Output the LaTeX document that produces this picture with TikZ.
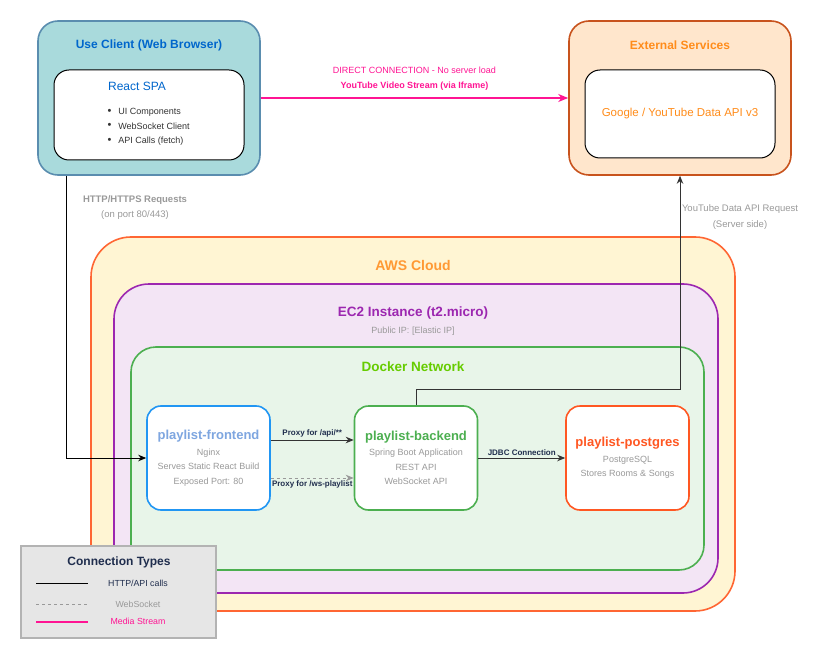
\documentclass[tikz,border=0pt]{standalone}
\usepackage{fontspec}
\setmainfont{Liberation Sans}
\usetikzlibrary{arrows.meta, positioning}

\definecolor{clientfill}{HTML}{A9DADC}
\definecolor{clientline}{HTML}{5A8DAF}
\definecolor{titleblue}{HTML}{0066CC}
\definecolor{extfill}{HTML}{FFE6CC}
\definecolor{extline}{HTML}{C8531D}
\definecolor{extorange}{HTML}{FF8C1A}
\definecolor{awsfill}{HTML}{FFF5D3}
\definecolor{awsline}{HTML}{FF6633}
\definecolor{awsorange}{HTML}{FF9933}
\definecolor{ecfill}{HTML}{F3E5F5}
\definecolor{ecline}{HTML}{9C27B0}
\definecolor{dockfill}{HTML}{E8F5E9}
\definecolor{dockline}{HTML}{4CAF50}
\definecolor{docktext}{HTML}{66CC00}
\definecolor{feline}{HTML}{2196F3}
\definecolor{fetext}{HTML}{7EA6E0}
\definecolor{pgline}{HTML}{FF5722}
\definecolor{mediapink}{HTML}{FF1493}
\definecolor{navy}{HTML}{1F2D4D}
\definecolor{softgray}{HTML}{999999}
\definecolor{arrowgray}{HTML}{333333}
\definecolor{legendfill}{HTML}{E6E6E6}
\definecolor{legendline}{HTML}{B3B3B3}

\newcommand{\fsize}[2]{\fontsize{#1}{#2}\selectfont}
\newcommand{\svctitle}[2]{{\bfseries\fsize{13}{15}\color{#1}#2}}
\newcommand{\dotitem}{\raisebox{0.5pt}{\fsize{11}{11}\textbullet}\hspace{7pt}}

\tikzset{
	zone/.style={draw=#1, line width=1.6pt, inner sep=0pt},
	inner box/.style={draw=black, fill=white, line width=1pt, rounded corners=15pt, inner sep=0pt},
	service/.style={draw=#1, fill=white, line width=1.6pt, rounded corners=14pt,
		minimum width=123pt, minimum height=104pt, inner sep=0pt, align=center,
		font=\fsize{9}{14.5}, text=softgray},
	ztitle/.style={font=\bfseries\fsize{#1}{#1}},
	small label/.style={font=\bfseries\fsize{8}{10}, text=navy, inner sep=2pt},
	legend text/.style={font=\fsize{8.8}{10}},
	plain/.style={draw=arrowgray, line width=0.8pt, -{Stealth[length=8pt,width=6.5pt]}},
	ws/.style={draw=softgray, line width=0.8pt, dash pattern=on 3pt off 3pt, -{Stealth[length=8pt,width=6.5pt]}},
	media/.style={draw=mediapink, line width=1.6pt, -{Stealth[length=10pt,width=8pt]}}
}

\begin{document}
\begin{tikzpicture}[x=1pt, y=-1pt, node distance=207.5pt, on grid]
	\useasboundingbox (0,0) rectangle (826,660);

	% outer zones
	\node[zone=awsline, fill=awsfill, rounded corners=40pt, minimum width=644pt, minimum height=374pt] (aws) at (413,424) {};
	\node[zone=ecline, fill=ecfill, rounded corners=35pt, minimum width=604pt, minimum height=309pt] (ec2) at (416,438.5) {};
	\node[zone=dockline, fill=dockfill, rounded corners=25pt, minimum width=573pt, minimum height=223pt] (docker) at (417.5,458.5) {};
	\node[ztitle=14, text=awsorange] (awstitle) at (413,265) {AWS Cloud};
	\node[ztitle=13.5, text=ecline] (ec2title) at (413,313) {EC2 Instance (t2.micro)};
	\node[font=\fsize{9}{11}, text=softgray] (ec2ip) at (413,331) {Public IP: [Elastic IP]};
	\node[ztitle=13.5, text=docktext] (docktitle) at (413,367) {Docker Network};

	% client
	\node[zone=clientline, fill=clientfill, rounded corners=20pt, minimum width=222pt, minimum height=154pt] (client) at (149,98) {};
	\node[ztitle=12, text=titleblue] (clienttitle) at (149,45) {Use Client (Web Browser)};
	\node[inner box, minimum width=190pt, minimum height=90pt] (spa) at (149,115) {};
	\node[font=\fsize{12}{14}, text=titleblue] (spatitle) at (137,86) {React SPA};
	\node[anchor=west, align=left, font=\fsize{9}{14.5}, text=arrowgray] (spalist) at (104,127)
		{\dotitem UI Components\\ \dotitem WebSocket Client\\ \dotitem API Calls (fetch)};

	% external
	\node[zone=extline, fill=extfill, rounded corners=20pt, minimum width=222pt, minimum height=154pt] (ext) at (680,98) {};
	\node[ztitle=12, text=extorange] (exttitle) at (680,45) {External Services};
	\node[inner box, minimum width=190pt, minimum height=88pt, font=\fsize{11.5}{14}, text=extorange] (gapi) at (680,114) {Google / YouTube Data API v3};

	% containers
	\node[service=feline] (fe) at (208.5,458)
		{\svctitle{fetext}{playlist-frontend}\\[1pt] Nginx\\ Serves Static React Build\\ Exposed Port: 80};
	\node[service=dockline, right=of fe] (be)
		{\svctitle{dockline}{playlist-backend}\\[1pt] Spring Boot Application\\ REST API\\ WebSocket API};
	\node[service=pgline, right=211.5pt of be] (pg)
		{\svctitle{pgline}{playlist-postgres}\\[1pt] PostgreSQL\\ Stores Rooms \& Songs};

	% connections
	\draw[media] (client.east) -- node[above=3pt, align=center, text=mediapink, font=\fsize{9}{15}]
		{DIRECT CONNECTION - No server load\\ \textbf{YouTube Video Stream (via Iframe)}} (ext.west);
	\draw[plain, draw=black] ([xshift=-83pt]client.south) |- (fe.west);
	\node[align=center, text=softgray, font=\fsize{9.5}{15}] (httplabel) at (135,208)
		{\textbf{HTTP/HTTPS Requests}\\ (on port 80/443)};
	\draw[plain] (be.north) -- ++(0,-16) -| (ext.south);
	\node[align=center, text=softgray, font=\fsize{9.5}{16}] (apilabel) at (740,217)
		{YouTube Data API Request\\ (Server side)};
	\draw[plain] ([yshift=18pt]fe.east) -- node[small label, above] {Proxy for /api/**} ([yshift=18pt]be.west);
	\draw[ws] ([yshift=-20pt]fe.east) -- node[small label, below] {Proxy for /ws-playlist} ([yshift=-20pt]be.west);
	\draw[plain] (be) -- node[small label, above] {JDBC Connection} (pg);

	% legend
	\node[draw=legendline, fill=legendfill, line width=1.6pt, minimum width=195pt, minimum height=92pt] (legend) at (118.5,592) {};
	\node[ztitle=12, text=navy] (legendtitle) at (119,562) {Connection Types};
	\coordinate (l1a) at (36,583); \coordinate (l1b) at (88,583);
	\coordinate (l2a) at (36,604); \coordinate (l2b) at (88,604);
	\coordinate (l3a) at (36,622); \coordinate (l3b) at (88,622);
	\draw[black, line width=0.8pt] (l1a) -- (l1b);
	\draw[softgray, line width=0.8pt, dash pattern=on 3pt off 3pt] (l2a) -- (l2b);
	\draw[mediapink, line width=1.6pt] (l3a) -- (l3b);
	\node[legend text, text=navy] (lhttp) at (138,583) {HTTP/API calls};
	\node[legend text, text=softgray] (lws) at (138,604) {WebSocket};
	\node[legend text, text=mediapink] (lmedia) at (138,621) {Media Stream};
\end{tikzpicture}
\end{document}
